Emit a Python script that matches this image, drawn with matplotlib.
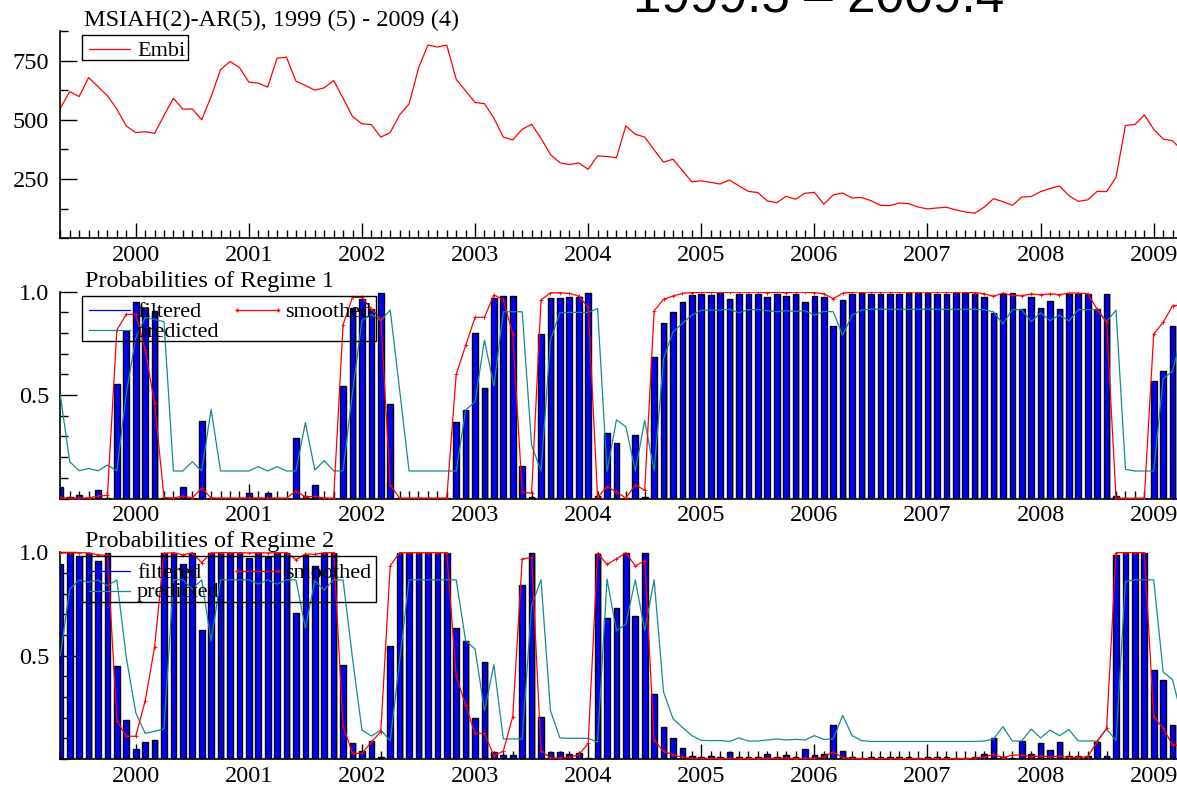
import numpy as np
import matplotlib
matplotlib.use("Agg")
import matplotlib.pyplot as plt
from matplotlib.lines import Line2D
from matplotlib.patches import Rectangle
from matplotlib.ticker import FixedLocator, MultipleLocator

plt.rcParams['font.family'] = ['Liberation Serif', 'DejaVu Serif']

# monthly sample 1999(5) - 2009(4)
start_year = 1999
start_month = 5
n_obs = 120

embi = [549, 619, 598, 678, 640, 602, 545, 474, 446, 450,
        443, 518, 591, 545, 546, 500, 598, 711, 746, 721,
        659, 655, 638, 760, 764, 663, 645, 625, 635, 666,
        591, 514, 483, 480, 427, 446, 521, 567, 718, 816,
        807, 815, 671, 622, 573, 568, 507, 427, 415, 460,
        481, 422, 353, 319, 311, 318, 291, 348, 345, 340,
        474, 439, 427, 373, 321, 334, 286, 238, 243, 236,
        229, 246, 221, 198, 193, 158, 150, 177, 165, 190,
        194, 144, 183, 191, 170, 172, 159, 139, 138, 149,
        146, 132, 124, 128, 131, 120, 111, 106, 131, 167,
        155, 139, 174, 176, 197, 210, 221, 180, 156, 162,
        198, 197, 257, 476, 480, 521, 460, 419, 411, 372]

# regime 1 probabilities
filtered1 = [.057, .005, .017, .003, .04, .003, .552, .81, .952, .92,
             .906, .002, .002, .057, .003, .375, .003, .002, .002, .002,
             .028, .002, .025, .002, .002, .294, .012, .065, .002, .002,
             .544, .923, .963, .915, .992, .455, .002, .002, .002, .002,
             .002, .002, .368, .428, .802, .533, .968, .979, .979, .159,
             .005, .795, .968, .968, .976, .973, .995, .01, .318, .27,
             .003, .307, .005, .684, .847, .9, .948, .984, .989, .985,
             .992, .965, .989, .99, .99, .974, .989, .979, .99, .95,
             .981, .976, .834, .96, .99, .994, .989, .989, .99, .989,
             .992, .994, .992, .989, .989, .994, .994, .989, .976, .899,
             .989, .994, .915, .974, .921, .955, .917, .987, .987, .987,
             .917, .987, .012, .003, .003, .003, .568, .617, .834, .9]

smoothed1 = [.003, .002, .002, .003, .012, .015, .815, .89, .89, .72,
             .46, .005, .002, .012, .003, .05, .003, .002, .002, .002,
             .003, .002, .003, .002, .002, .036, .008, .01, .002, .002,
             .84, .973, .972, .918, .868, .065, .002, .002, .002, .002,
             .002, .002, .6, .74, .876, .876, .984, .962, .795, .032,
             .025, .96, .995, .995, .992, .979, .925, .005, .058, .032,
             .002, .066, .04, .908, .963, .979, .992, .996, .997, .997,
             .998, .997, .998, .998, .998, .996, .997, .996, .998, .997,
             .996, .99, .966, .993, .997, .998, .998, .998, .998, .998,
             .998, .998, .998, .998, .998, .998, .998, .996, .99, .978,
             .993, .982, .98, .99, .985, .99, .986, .993, .993, .99,
             .915, .852, .002, .001, .001, .002, .795, .852, .932, .935]

predicted1 = [.5, .178, .134, .145, .134, .162, .134, .508, .775, .876,
              .866, .855, .133, .133, .178, .133, .431, .133, .133, .133,
              .133, .154, .133, .154, .133, .133, .367, .138, .183, .133,
              .134, .513, .86, .889, .86, .912, .525, .133, .133, .133,
              .133, .133, .133, .428, .468, .766, .544, .903, .903, .903,
              .258, .133, .766, .898, .9, .9, .9, .918, .13, .38,
              .347, .133, .378, .133, .676, .805, .847, .887, .91, .911,
              .911, .915, .898, .913, .913, .908, .903, .908, .905, .908,
              .887, .905, .903, .789, .887, .911, .915, .915, .915, .915,
              .915, .915, .915, .915, .915, .915, .915, .915, .913, .903,
              .844, .913, .913, .855, .898, .86, .887, .858, .913, .913,
              .913, .855, .911, .141, .133, .133, .133, .579, .616, .8]

# two-regime model: regime 2 probabilities are the complements
filtered2 = 1 - np.array(filtered1)
smoothed2 = 1 - np.array(smoothed1)
predicted2 = 1 - np.array(predicted1)

years = [2000, 2001, 2002, 2003, 2004, 2005, 2006, 2007, 2008, 2009]

W, H = 1177, 792
fig = plt.figure(figsize=(W / 100, H / 100), dpi=100)

t = start_year + (start_month - 1) / 12 + np.arange(n_obs) / 12
xlim = (t[0], t[-1])

BLUE = '#0000ff'
RED = '#ff0000'
TEAL = '#138c8c'


def px_axes(x0, y0, x1, y1):
    return fig.add_axes([x0 / W, 1 - y1 / H, (x1 - x0) / W, (y1 - y0) / H])


def style_axis(ax):
    ax.spines['top'].set_visible(False)
    ax.spines['right'].set_visible(False)
    ax.set_xlim(*xlim)
    ax.xaxis.set_major_locator(FixedLocator(years))
    ax.set_xticklabels([str(y) for y in years])
    ax.xaxis.set_minor_locator(MultipleLocator(1 / 12))
    ax.tick_params(which='both', direction='in', labelsize=17.5, colors='k')
    ax.tick_params(axis='x', which='major', length=11, width=1, pad=5)
    ax.tick_params(axis='x', which='minor', length=6, width=1)
    ax.tick_params(axis='y', which='major', length=12, width=1, pad=8)
    ax.tick_params(axis='y', which='minor', length=6, width=1)
    for s in ('left', 'bottom'):
        ax.spines[s].set_linewidth(1.2)


def key_box(x0, y0, x1, y1, rows):
    fig.add_artist(Rectangle((x0 / W, 1 - y1 / H), (x1 - x0) / W, (y1 - y0) / H,
                             transform=fig.transFigure, fill=False,
                             ec='k', lw=1.0, zorder=20))
    for lx, ly, label, kw in rows:
        fig.add_artist(Line2D([lx / W, (lx + 41) / W], [1 - ly / H, 1 - ly / H],
                              transform=fig.transFigure, zorder=21, **kw))
        fig.text((lx + 48) / W, 1 - (ly + 7) / H, label, fontsize=16,
                 va='baseline', ha='left', zorder=21)


# Embi level
ax0 = px_axes(60.3, 30.7, 1182, 238.3)
style_axis(ax0)
ax0.plot(t, embi, color=RED, lw=0.9)
ax0.set_ylim(0, 876)
ax0.yaxis.set_major_locator(FixedLocator([250, 500, 750]))
ax0.yaxis.set_minor_locator(MultipleLocator(125))
key_box(82.3, 35, 187.7, 60, [(89, 49.3, 'Embi', dict(color=RED, lw=0.9))])
fig.text(84 / W, 1 - 26 / H, 'MSIAH(2)-AR(5), 1999 (5) - 2009 (4)',
         fontsize=17.5, va='baseline')
fig.text(633 / W, 1 - 12.5 / H, '1999.5 – 2009.4', fontsize=37,
         family=['Liberation Sans', 'DejaVu Sans'], va='baseline')


def regime_panel(y0, y1, filt, smooth, pred, title, key_y):
    ax = px_axes(60.3, y0, 1182, y1)
    style_axis(ax)
    w = 0.6 / 12
    ax.bar(t + 0.13 / 12, filt, width=w, color='#b4b4b4', lw=0, zorder=1)
    ax.bar(t, filt, width=w, color=BLUE, ec='k', lw=1.0, zorder=2)
    ax.plot(t, pred, color=TEAL, lw=0.9, zorder=3)
    ax.plot(t, smooth, color=RED, lw=0.9, marker='+', ms=2.5, mew=0.6, zorder=4)
    ax.set_ylim(0, 1.0)
    ax.yaxis.set_major_locator(FixedLocator([0.5, 1.0]))
    ax.yaxis.set_minor_locator(MultipleLocator(0.1))
    ax.set_yticklabels(['0.5', '1.0'])
    fig.text(85 / W, 1 - (y0 - 5) / H, title, fontsize=17.5, va='baseline')
    key_box(82, key_y, 376, key_y + 45.5, [
        (89, key_y + 14.5, 'filtered', dict(color=BLUE, lw=0.9)),
        (237, key_y + 14.5, 'smoothed', dict(color=RED, lw=0.9, marker='+', ms=2.5)),
        (89, key_y + 34.5, 'predicted', dict(color=TEAL, lw=0.9)),
    ])
    return ax


regime_panel(291.7, 498.5, filtered1, smoothed1, predicted1,
             'Probabilities of Regime 1', 295.7)
regime_panel(552.3, 759, filtered2, smoothed2, predicted2,
             'Probabilities of Regime 2', 556)

fig.savefig('out.png', dpi=100)
